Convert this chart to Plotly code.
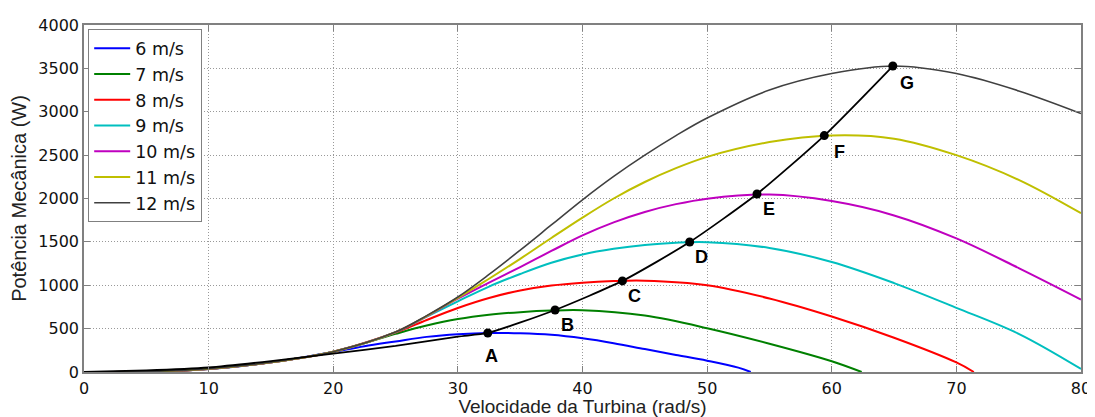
import plotly.graph_objects as go

# ---- data ----
speed_labels = ["6 m/s", "7 m/s", "8 m/s", "9 m/s", "10 m/s", "11 m/s", "12 m/s"]
colors = ["#0000FF", "#008000", "#FF0000", "#00BFBF", "#BF00BF", "#BFBF00", "#404040"]

w_6 = [0, 2.5, 5, 7.5, 10, 12.5, 15, 17.5, 20, 22.5, 25, 27.5, 30, 32.5, 35, 37.5, 40,
       42.5, 45, 47.5, 50, 52.5, 53.5]
p_6 = [0, 1, 4, 14, 34, 66, 112, 168, 232, 298, 352, 405, 436, 450, 446, 428, 388,
       332, 264, 197, 130, 50, 0]

w_7 = [0, 5, 10, 15, 20, 25, 27.5, 30, 32.5, 35, 37.5, 40, 45, 50, 55, 60, 62.4]
p_7 = [0, 5, 36, 112, 234, 440, 535, 610, 660, 690, 708, 712, 650, 505, 326, 124, 0]

w_8 = [0, 5, 10, 15, 20, 25, 27.5, 30, 32.5, 35, 37.5, 40, 42.5, 45, 50, 55, 60, 65, 70, 71.4]
p_8 = [0, 5, 36, 112, 234, 455, 600, 738, 853, 940, 997, 1030, 1048, 1052, 1000, 848, 640,
       395, 110, 0]

w_9 = [0, 5, 10, 15, 20, 25, 27.5, 30, 32.5, 35, 37.5, 40, 42.5, 45, 47.5, 50, 55, 60, 65,
       70, 75, 80]
p_9 = [0, 5, 37, 112, 234, 458, 640, 815, 985, 1130, 1260, 1355, 1420, 1465, 1490, 1496, 1430,
       1268, 1025, 740, 440, 35]

w_10 = [0, 5, 10, 15, 20, 25, 30, 32.5, 35, 37.5, 40, 42.5, 45, 47.5, 50, 55, 60, 65, 70, 75, 80]
p_10 = [0, 5, 37, 112, 234, 460, 845, 1030, 1210, 1395, 1575, 1725, 1845, 1935, 1998, 2045,
        1970, 1805, 1540, 1198, 835]

w_11 = [0, 5, 10, 15, 20, 25, 30, 32.5, 35, 37.5, 40, 42.5, 45, 47.5, 50, 55, 60, 65, 70, 75, 80]
p_11 = [0, 5, 37, 112, 234, 460, 855, 1075, 1305, 1545, 1780, 2000, 2190, 2350, 2480, 2650,
        2727, 2690, 2500, 2215, 1830]

w_12 = [0, 5, 10, 15, 20, 25, 27.5, 30, 32.5, 35, 37.5, 40, 42.5, 45, 47.5, 50, 55, 60, 65,
        70, 75, 80]
p_12 = [0, 5, 38, 112, 234, 460, 650, 865, 1125, 1405, 1695, 1985, 2255, 2500, 2725, 2928,
        3250, 3440, 3528, 3440, 3240, 2980]

# optimal power trajectory (black line through the maxima)
w_opt = [0, 5, 10, 15, 20, 25, 30, 32.4, 37.8, 43.2, 48.6, 54, 59.4, 64.9]
p_opt = [0, 18, 52, 126, 212, 300, 408, 450, 715, 1050, 1498, 2052, 2725, 3527]

# marked maxima
point_labels = ["A", "B", "C", "D", "E", "F", "G"]
w_pts = [32.4, 37.8, 43.2, 48.6, 54, 59.4, 64.9]
p_pts = [450, 715, 1050, 1498, 2052, 2725, 3527]

x_ticks = [0, 10, 20, 30, 40, 50, 60, 70, 80]
y_ticks = [0, 500, 1000, 1500, 2000, 2500, 3000, 3500, 4000]

curves_w = [w_6, w_7, w_8, w_9, w_10, w_11, w_12]
curves_p = [p_6, p_7, p_8, p_9, p_10, p_11, p_12]

fig = go.Figure()
for lab, col, wx, py in zip(speed_labels, colors, curves_w, curves_p):
    fig.add_trace(go.Scatter(
        x=wx, y=py, mode="lines", name=lab,
        line=dict(color=col, width=2 if col != "#404040" else 1.6, shape="spline", smoothing=1),
    ))

fig.add_trace(go.Scatter(
    x=w_opt, y=p_opt, mode="lines", showlegend=False,
    line=dict(color="black", width=1.8, shape="spline", smoothing=0.6),
))
fig.add_trace(go.Scatter(
    x=w_pts, y=p_pts, mode="markers", showlegend=False,
    marker=dict(color="black", size=9),
))

label_shift = {"A": (4, -23), "F": (15, -16), "G": (14, -17)}
for lab, wx, py in zip(point_labels, w_pts, p_pts):
    dx, dy = label_shift.get(lab, (12, -15))
    fig.add_annotation(
        x=wx, y=py, text=f"<b>{lab}</b>", showarrow=False,
        xshift=dx, yshift=dy,
        font=dict(family="Liberation Sans, Arial, sans-serif", size=18, color="black"),
    )

axis_common = dict(
    showline=True, linecolor="#808080", linewidth=1.5, mirror="ticks",
    ticks="inside", ticklen=6, tickcolor="#808080", tickwidth=1.2,
    showgrid=True, gridcolor="#999999", griddash="1px,2px", gridwidth=1,
    zeroline=False, automargin=False,
    tickfont=dict(family="DejaVu Sans, sans-serif", size=16, color="#111111"),
)

fig.update_xaxes(
    range=[0, 80], tickvals=x_ticks, ticktext=[str(v) for v in x_ticks],
    ticklabelstandoff=1,
    title=dict(text="Velocidade da Turbina (rad/s)", standoff=4,
               font=dict(family="Liberation Sans, Arial, sans-serif", size=19, color="#222222")),
    **axis_common,
)
fig.update_yaxes(
    range=[0, 4000], tickvals=y_ticks, ticktext=[str(v) for v in y_ticks],
    title=dict(text="Potência Mecânica (W)", standoff=9,
               font=dict(family="Liberation Sans, Arial, sans-serif", size=20, color="#222222")),
    **axis_common,
)

# the page adds an 8px body margin, so the figure is sized to fit the window
fig.update_layout(
    width=1087, height=409,
    margin=dict(l=76, r=14, t=17, b=45),
    plot_bgcolor="white", paper_bgcolor="white",
    legend=dict(
        x=0.004, y=0.988, xanchor="left", yanchor="top",
        bgcolor="white", bordercolor="#808080", borderwidth=1.2,
        font=dict(family="DejaVu Sans, sans-serif", size=17.5, color="#111111"),
        itemwidth=36,
    ),
)

fig.write_html("out.html")
